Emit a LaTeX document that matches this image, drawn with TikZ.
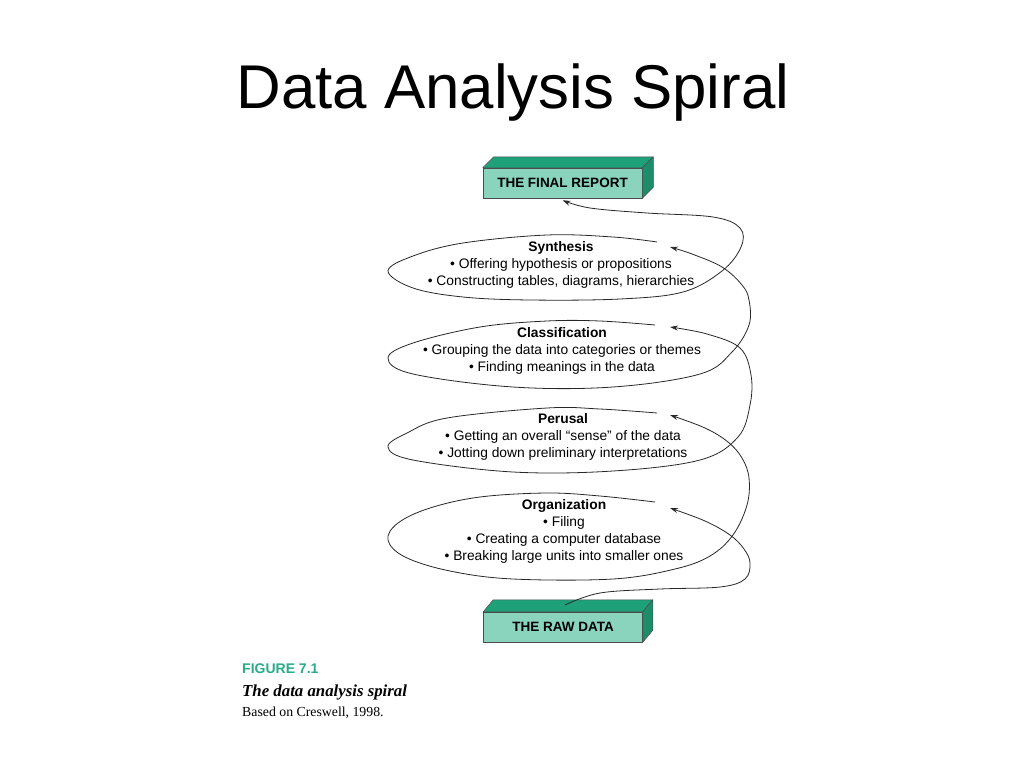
\documentclass[tikz,border=0pt]{standalone}
\usepackage{fontspec}
\setmainfont{Liberation Sans}
\newfontfamily\captionserif{Liberation Serif}
\usetikzlibrary{arrows.meta}
\definecolor{boxfront}{RGB}{138,212,190}
\definecolor{boxtop}{RGB}{30,160,120}
\definecolor{boxside}{RGB}{28,140,105}
\definecolor{figteal}{RGB}{40,172,140}
\definecolor{spiral}{RGB}{40,40,40}
\begin{document}
\begin{tikzpicture}[x=1pt,y=-1pt,
  spiralline/.style={draw=spiral,line width=0.8pt},
  arr/.style={-{Stealth[length=8pt,width=5pt]}},
  lvl/.style={align=center,inner sep=0pt,font=\fontsize{13.8}{17}\selectfont},
  face/.style={draw=black!70,line width=0.5pt,line join=round},
  boxnode/.style={face,fill=boxfront,minimum width=159pt,minimum height=30pt,inner sep=0pt,
    font=\fontsize{13.5}{16}\selectfont\bfseries},
  capt/.style={anchor=base west,inner sep=0pt}]
\path[use as bounding box,fill=white] (0,0) rectangle (1024,768);

% title
\node[anchor=base,inner sep=0pt,font=\fontsize{61.8}{70}\selectfont] (title) at (513,108) {Data Analysis Spiral};

% final report box
\node[boxnode] (final) at (562.5,183) {THE FINAL REPORT};
\path[face,fill=boxtop] (final.north west) -- ++(11,-11) -- ([shift={(11,-11)}]final.north east) -- (final.north east) -- cycle;
\path[face,fill=boxside] (final.north east) -- ++(11,-11) -- ([shift={(11,-11)}]final.south east) -- (final.south east) -- cycle;

% raw data box
\node[boxnode] (raw) at (563,627) {THE RAW DATA};
\path[face,fill=boxtop] (raw.north west) -- ++(10,-12) -- ([shift={(10,-12)}]raw.north east) -- (raw.north east) -- cycle;
\path[face,fill=boxside] (raw.north east) -- ++(10,-12) -- ([shift={(10,-12)}]raw.south east) -- (raw.south east) -- cycle;

% level texts
\node[lvl] (syn) at (561,265) {\textbf{Synthesis}\\• Offering hypothesis or propositions\\• Constructing tables, diagrams, hierarchies};
\node[lvl] (cls) at (562,351) {\textbf{Classification}\\• Grouping the data into categories or themes\\• Finding meanings in the data};
\node[lvl] (per) at (563,437) {\textbf{Perusal}\\• Getting an overall “sense” of the data\\• Jotting down preliminary interpretations};
\node[lvl] (org) at (564,531.5) {\textbf{Organization}\\• Filing\\• Creating a computer database\\• Breaking large units into smaller ones};

% spiral anchor points
\coordinate (synIn) at (670,247);
\coordinate (clsIn) at (670,327);
\coordinate (perIn) at (670,415);
\coordinate (orgIn) at (670,508);
\coordinate (rawOut) at (565,605);
\coordinate (finalIn) at ([yshift=-2pt]final.south);

% raw -> organization
\draw[spiralline,arr] plot[smooth,tension=0.6] coordinates {(rawOut) (600,593) (660,589) (720,587) (745,579) (750,563) (744,549) (730,535) (705,521) (orgIn)};
% organization -> perusal
\draw[spiralline,arr] plot[smooth,tension=0.6] coordinates {(655,502) (600,496) (547,493) (480,497) (430,508) (398,523) (388,540) (405,557) (450,571) (513,579) (613,579) (675,569) (710,556) (733,535) (747,505) (749,478) (742,458) (728,442) (705,428) (perIn)};
% perusal -> classification
\draw[spiralline,arr] plot[smooth,tension=0.6] coordinates {(657,413) (600,409) (547,408) (447,418) (407,433) (388,447) (413,460) (513,472) (613,471) (700,460) (738,437) (750,405) (751,375) (740,348) (707,334) (clsIn)};
% classification -> synthesis
\draw[spiralline,arr] plot[smooth,tension=0.6] coordinates {(655,325) (600,321) (547,321) (480,327) (413,343) (388,358) (413,374) (513,387) (613,387) (700,374) (732,352) (749,325) (749,300) (742,285) (722,267) (692,254) (synIn)};
% synthesis -> final report
\draw[spiralline,arr] plot[smooth,tension=0.6] coordinates {(657,242) (613,237) (547,235) (463,243) (413,256) (388,271) (413,288) (463,297) (530,300) (620,299) (683,292) (722,271) (741,247) (740,228) (713,217) (647,213) (590,208) (finalIn)};

% caption
\node[capt,font=\fontsize{14}{16}\selectfont\bfseries,text=figteal] (fig) at (242,673) {FIGURE 7.1};
\node[capt,font=\captionserif\fontsize{16.8}{19}\selectfont\bfseries\itshape] (cap) at (242,696) {The data analysis spiral};
\node[capt,font=\captionserif\fontsize{13.8}{16}\selectfont] (src) at (242,716) {Based on Creswell, 1998.};
\end{tikzpicture}
\end{document}
